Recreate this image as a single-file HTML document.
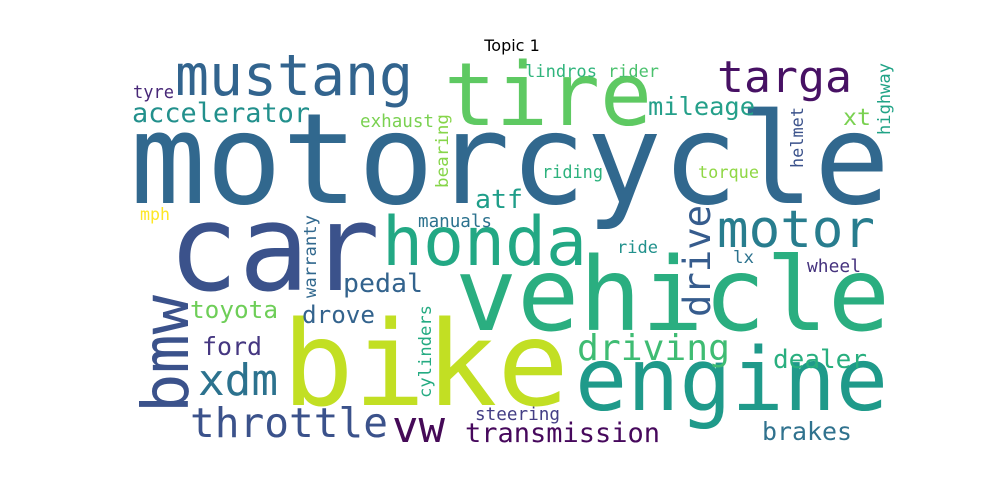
<!DOCTYPE html>
<html><head><meta charset="utf-8"><style>
html,body{margin:0;padding:0;background:#fff;width:1000px;height:500px;overflow:hidden}
svg{display:block}
</style></head><body>
<svg id="chart" width="1000" height="500" viewBox="0 0 1000 500" xmlns="http://www.w3.org/2000/svg">
<text x="512" y="51" text-anchor="middle" font-family="DejaVu Sans, Liberation Sans, sans-serif" font-size="16" fill="#000">Topic 1</text>
<g id="words"></g>
</svg>
<script>
const words = ["motorcycle","car","vehicle","bike","engine","honda","tire","mustang","motor","targa","xdm","throttle","bmw","drive","driving","vw","transmission","accelerator","mileage","pedal","toyota","drove","ford","dealer","brakes","atf","xt","tyre","exhaust","bearing","lindros","rider","highway","helmet","riding","torque","mph","manuals","warranty","ride","lx","wheel","cylinders","steering"];
const weights = [126,120,102,118,87,68,87,57,52,44,44,41,64,37,36,44,27,27,25,26,24,24,25,26,25,26,23,18,17.5,17,17,17,17,17,17.5,17,17,17.5,17,17,17,17.5,17,17.6];
const colors = ["#31688e","#3b528b","#2aae80","#c2df23","#1f9a8a","#22a884","#5ec962","#32648e","#287d8e","#471164","#2c728e","#3b528b","#3b528b","#365c8d","#3fbc73","#450a57","#46085c","#22908c","#25a08a","#33638d","#6ece58","#33638d","#453781","#29af7f","#30728e","#1f9e89","#7ad151","#482878","#7ad151","#86d549","#2fb47c","#4ac16d","#20a386","#3b528b","#2db27d","#8fd744","#fde725","#2c728e","#31688e","#21918c","#2c728e","#46337e","#25ab82","#433e85"];
const rotated = [0,0,0,0,0,0,0,0,0,0,0,0,1,1,0,0,0,0,0,0,0,0,0,0,0,0,0,0,0,1,0,0,1,1,0,0,0,0,1,0,0,0,1,0];
// layout: anchor x, anchor y, span length
const ax = [130,168,455,282,575,382,444,175,717,717,198,190,188,710,577,392,465,132,648,343,190,302,202,773,762,475,843,133,360,448,525,608,890,803,542,698,140,418,316,617,733,807,431,475];
const ay = [203,290,330,405,410,265,125,95,247,92,395,437,413,317,360,442,442,122,115,292,318,323,355,368,440,208,125,98,127,188,77,77,135,168,178,178,220,227,298,253,263,272,398,420];
const spans = [760,212,435,287,313,205,208,238,158,135,80,198,118,112,153,53,195,178,107,80,88,73,60,94,90,48,28,41,74,74,72,51,72,61,61,61,30,74,83,41,21,54,93,85];
const g = document.getElementById('words');
const NS = 'http://www.w3.org/2000/svg';
for (let i = 0; i < words.length; i++) {
  const t = document.createElementNS(NS, 'text');
  
  
  t.setAttribute('font-family', 'DejaVu Sans Mono, Liberation Mono, monospace');
  t.setAttribute('font-size', weights[i]);
  t.setAttribute('fill', colors[i]);
  t.setAttribute('textLength', spans[i]);
  t.setAttribute('lengthAdjust', 'spacingAndGlyphs');
  if (rotated[i]) {
    t.setAttribute('transform', 'translate(' + ax[i] + ',' + ay[i] + ') rotate(-90)');
    t.setAttribute('x', 0); t.setAttribute('y', 0);
  } else {
    t.setAttribute('x', ax[i]); t.setAttribute('y', ay[i]);
  }
  t.textContent = words[i];
  g.appendChild(t);
}
</script>
</body></html>
